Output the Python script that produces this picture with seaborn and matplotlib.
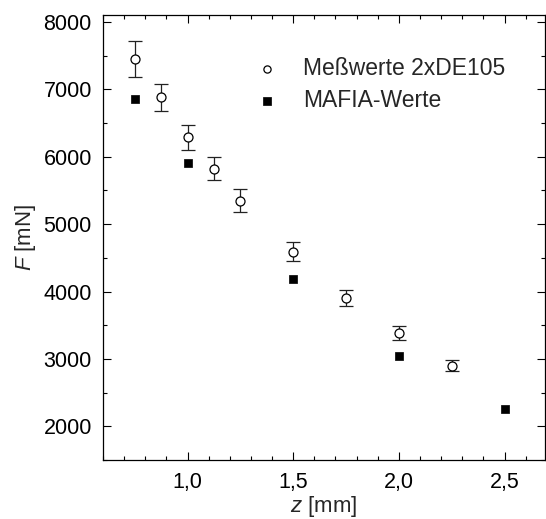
import numpy as np
import pandas as pd
import seaborn as sns
import matplotlib.pyplot as plt
from matplotlib.ticker import MultipleLocator, FuncFormatter

# Messwerte (offene Kreise) mit Fehlerbalken
z_mess = [0.75, 0.875, 1.0, 1.125, 1.25, 1.5, 1.75, 2.0, 2.25]
F_mess = [7450, 6880, 6290, 5820, 5350, 4590, 3900, 3385, 2900]
F_err = [260, 200, 185, 170, 165, 140, 120, 105, 85]

# MAFIA-Werte (gefuellte Quadrate)
z_mafia = [0.75, 1.0, 1.5, 2.0, 2.5]
F_mafia = [6850, 5910, 4190, 3040, 2250]

df_mess = pd.DataFrame({"z": z_mess, "F": F_mess, "err": F_err})
df_mafia = pd.DataFrame({"z": z_mafia, "F": F_mafia})

sns.set_style("ticks")
plt.rcParams["font.family"] = ["Liberation Sans", "DejaVu Sans"]
plt.rcParams["mathtext.fontset"] = "custom"
plt.rcParams["mathtext.it"] = "Liberation Sans:italic"
plt.rcParams["mathtext.rm"] = "Liberation Sans"

fig = plt.figure(figsize=(5.46, 5.19), dpi=100)
ax = fig.add_axes([0.1886, 0.1137, 0.809, 0.857])

ax.errorbar(df_mess["z"], df_mess["F"], yerr=df_mess["err"], fmt="none",
            ecolor="#222222", elinewidth=0.9, capsize=5, capthick=0.9, zorder=2)
sns.scatterplot(data=df_mess, x="z", y="F", ax=ax, marker="o", s=42,
                facecolor="white", edgecolor="black", linewidth=0.9,
                label="Meßwerte 2xDE105", zorder=3)
sns.scatterplot(data=df_mafia, x="z", y="F", ax=ax, marker="s", s=40,
                color="black", edgecolor="black", linewidth=0.5,
                label="MAFIA-Werte", zorder=3)

ax.set_xlim(0.6, 2.69)
ax.set_ylim(1500, 8100)
ax.xaxis.set_major_locator(MultipleLocator(0.5))
ax.xaxis.set_minor_locator(MultipleLocator(0.1))
ax.yaxis.set_major_locator(MultipleLocator(1000))
ax.yaxis.set_minor_locator(MultipleLocator(500))
ax.xaxis.set_major_formatter(FuncFormatter(lambda v, p: f"{v:.1f}".replace(".", ",")))

ax.tick_params(which="both", direction="in", top=True, right=True,
               labelsize=15.5, colors="black", width=0.8)
ax.tick_params(which="major", length=6)
ax.tick_params(which="minor", length=3)
ax.tick_params(axis="x", which="major", pad=9)
ax.tick_params(axis="y", which="major", pad=8)
for sp in ax.spines.values():
    sp.set_linewidth(0.9)
    sp.set_color("black")
    sp.set_visible(True)

ax.set_xlabel(r"$z$ [mm]", fontsize=16, labelpad=0.5)
ax.set_ylabel(r"$F$ [mN]", fontsize=16, labelpad=4)

ax.legend(loc="upper left", bbox_to_anchor=(0.272, 0.952), frameon=False,
          fontsize=16.5, handletextpad=0.6, labelspacing=0.4, markerscale=0.8)

fig.savefig("out.png", dpi=100)
